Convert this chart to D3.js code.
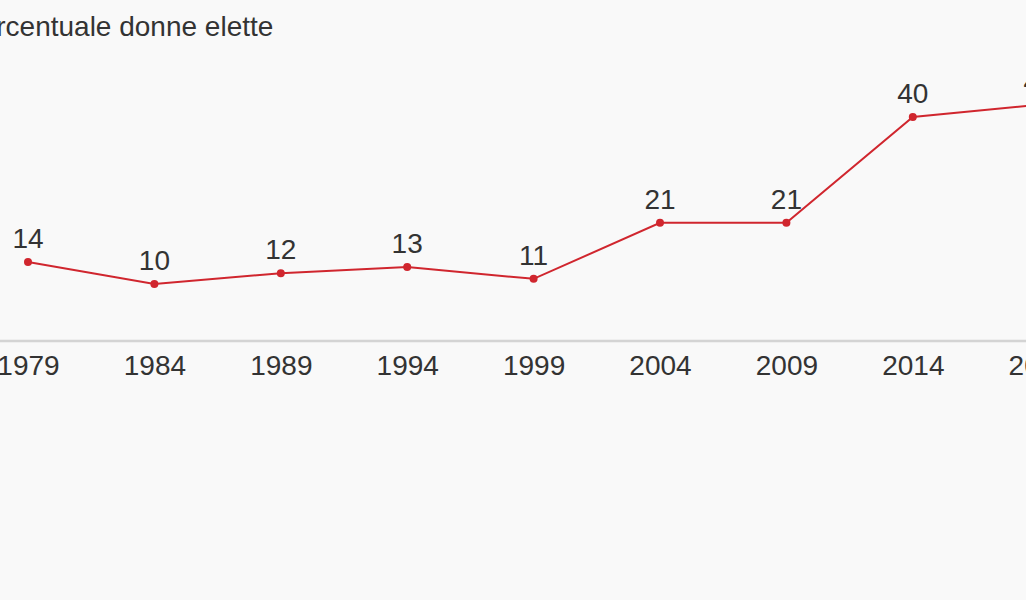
<!DOCTYPE html>
<html><head><meta charset="utf-8">
<script src="https://cdn.jsdelivr.net/npm/d3@7"></script>
<style>
html,body{margin:0;padding:0;background:#f9f9f9;overflow:hidden;}
svg{display:block;}
text{font-family:"Liberation Sans",Arial,sans-serif;fill:#333;}
</style></head>
<body>
<svg id="c" width="1026" height="600"></svg>
<script>
const title = "Percentuale donne elette";
const years = ["1979","1984","1989","1994","1999","2004","2009","2014","2019"];
const values = [14.1, 10.2, 12.1, 13.2, 11.1, 21.1, 21.1, 40.0, 42.2];
const labels = ["14","10","12","13","11","21","21","40","41"];

const svg = d3.select("#c");
const W = 1026, H = 600;

const x = d3.scalePoint().domain(years).range([28, 28 + 8 * 126.4]);
const y = d3.scaleLinear().domain([0, 40]).range([341, 117]);

svg.append("rect").attr("width", W).attr("height", H).attr("fill", "#f9f9f9");

svg.append("text").attr("x", -38).attr("y", 36)
  .attr("font-size", 28).text(title);

// baseline axis
svg.append("line").attr("x1", -10).attr("x2", W + 10)
  .attr("y1", y(0)).attr("y2", y(0))
  .attr("stroke", "#d4d4d4").attr("stroke-width", 2.5);

const xAxis = d3.axisBottom(x).tickSize(0).tickPadding(0);
const gx = svg.append("g").attr("transform", `translate(0,${y(0)})`).call(xAxis);
gx.select(".domain").remove();
gx.selectAll("text").attr("font-size", 28).attr("dy", null).attr("y", 34)
  .style("font-family", '"Liberation Sans",Arial,sans-serif').attr("fill", "#333");

const data = years.map((yr, i) => ({yr, v: values[i], l: labels[i]}));

svg.append("path").datum(data)
  .attr("fill", "none").attr("stroke", "#d0262e").attr("stroke-width", 2)
  .attr("d", d3.line().x(d => x(d.yr)).y(d => y(d.v)));

svg.selectAll("circle.pt").data(data).join("circle").attr("class", "pt")
  .attr("cx", d => x(d.yr)).attr("cy", d => y(d.v)).attr("r", 4)
  .attr("fill", "#d0262e");

svg.selectAll("text.lab").data(data).join("text").attr("class", "lab")
  .attr("x", d => x(d.yr)).attr("y", d => y(d.v) - 14)
  .attr("text-anchor", "middle").attr("font-size", 28).text(d => d.l);
</script>
</body></html>
